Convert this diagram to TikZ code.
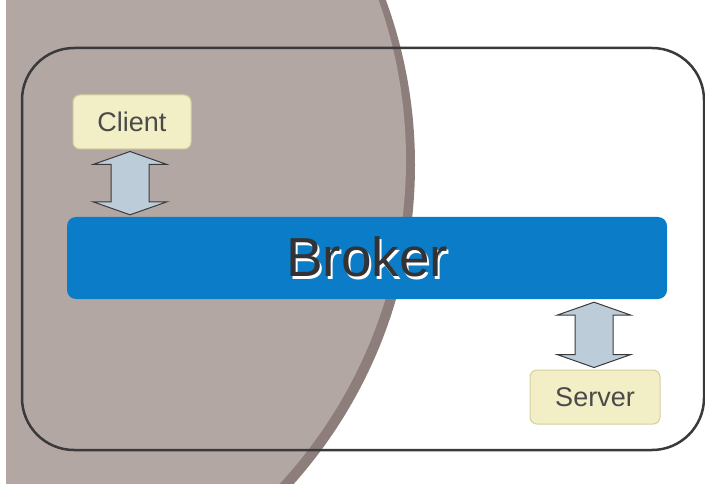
\documentclass[tikz,border=0pt]{standalone}
\usepackage{fontspec}
\setmainfont{Liberation Sans}
\usetikzlibrary{calc}
\definecolor{discfill}{HTML}{B3A7A4}
\definecolor{rimfill}{HTML}{8D7E7C}
\definecolor{boxfill}{HTML}{F2EEC6}
\definecolor{boxedge}{HTML}{D6CF9E}
\definecolor{arrfill}{HTML}{BCCDD9}
\definecolor{brokerblue}{HTML}{0A7CC8}
\definecolor{framecol}{HTML}{3A3A3C}
\definecolor{txt}{HTML}{4A4A4A}
\definecolor{brokertxt}{HTML}{333335}
\tikzset{
  labelbox/.style={draw=boxedge, line width=1pt, fill=boxfill, rounded corners=7pt,
    minimum width=#1, minimum height=54pt, inner sep=0pt, text=txt,
    font=\fontsize{27}{30}\selectfont},
  arr/.style={draw=framecol, line width=1pt, fill=arrfill, line join=miter},
  outer/.style={draw=framecol, line width=2.5pt, rounded corners=52pt},
}
\newcommand\blockarrow[2]{%
  \draw[arr] let \p1=(#1), \p2=(#2) in
    (\x1,\y1) -- (\x1+37pt,\y1-13pt) -- (\x1+19pt,\y1-13pt) -- (\x1+19pt,\y2+13pt)
    -- (\x1+37pt,\y2+13pt) -- (\x1,\y2) -- (\x1-37pt,\y2+13pt) -- (\x1-19pt,\y2+13pt)
    -- (\x1-19pt,\y1-13pt) -- (\x1-37pt,\y1-13pt) -- cycle;}
\newcommand\shadowtext[1]{\rlap{\hspace{2pt}\raisebox{-3pt}{\textcolor{white}{#1}}}#1}
\begin{document}
\begin{tikzpicture}[x=1pt,y=-1pt]
\useasboundingbox (0,0) rectangle (705,484);
\fill[white] (0,0) rectangle (705,484);
% shaded disc
\begin{scope}
  \clip (6,0) rectangle (705,484);
  \fill[rimfill] (-65,165) circle[radius=480];
  \fill[discfill] (-72,160) circle[radius=478];
\end{scope}
% outer frame
\draw[outer] (22,48) rectangle (704,450);
% broker
\node[fill=brokerblue, rounded corners=9pt, minimum width=600pt, minimum height=82pt,
  inner sep=0pt, text=brokertxt, font=\fontsize{55}{60}\selectfont] (broker) at (367,258)
  {\shadowtext{Broker}};
% client and server
\node[labelbox=118pt] (client) at (132,122) {Client};
\node[labelbox=130pt] (server) at (595,397) {Server};
% arrows
\coordinate (ctop) at ($(client.south)+(-2,2)$);
\coordinate (cbot) at (ctop |- broker.north);
\blockarrow{ctop}{$(cbot)+(0,-2)$}
\coordinate (stop) at ($(broker.south -| server.north)+(-1,3)$);
\coordinate (sbot) at ($(server.north)+(-1,-2)$);
\blockarrow{stop}{sbot}
\end{tikzpicture}
\end{document}
